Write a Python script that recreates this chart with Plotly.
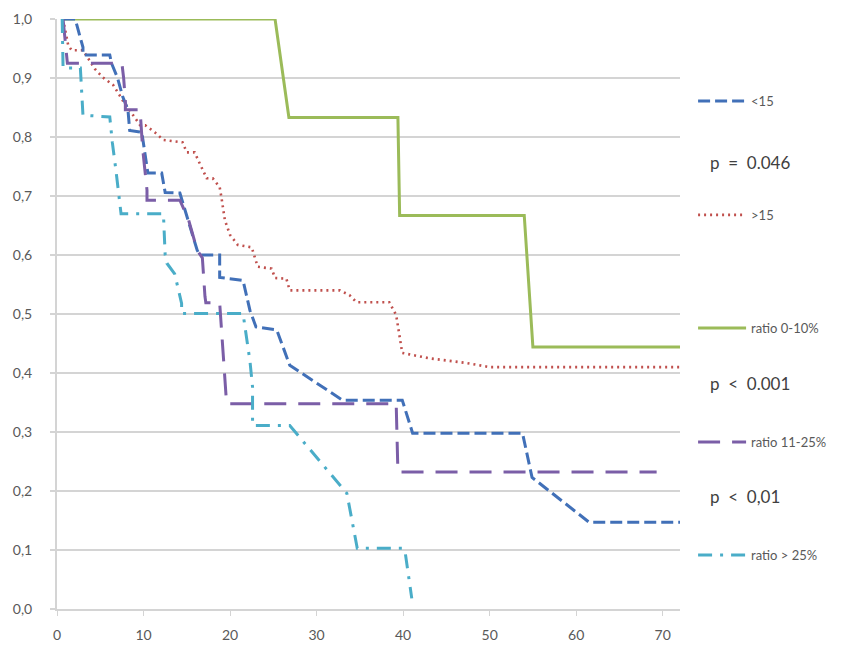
import plotly.graph_objects as go

# ---------------- data ----------------
lt15_x = [0.7, 2.1, 3.0, 3.0, 6.1, 6.3, 7.0, 7.6, 8.2, 8.4, 9.8, 10.5, 12.1, 12.5, 14.2, 16.2, 16.5, 18.8, 18.8,
          21.5, 22.3, 23.0, 25.4, 26.9, 33.0, 39.9, 41.1, 53.8, 54.9, 61.5, 72]
lt15_y = [1.0, 1.0, 0.952, 0.939, 0.939, 0.925, 0.90, 0.868, 0.846, 0.811, 0.808, 0.739, 0.739, 0.706, 0.705,
          0.608, 0.60, 0.60, 0.562, 0.557, 0.506, 0.478, 0.473, 0.413, 0.354, 0.354, 0.298, 0.298, 0.223, 0.147, 0.147]

gt15_x = [0.7, 1.3, 1.7, 3.0, 4.4, 5.3, 6.5, 7.6, 8.8, 9.6, 10.2, 11.3, 12.3, 14.5, 15.0, 15.9, 16.5, 17.3, 18.0,
          18.8, 19.0, 19.4, 20.0, 20.9, 22.5, 23.2, 24.8, 25.2, 26.5, 26.9, 32.7, 33.8, 34.6, 38.4, 39.2, 39.9,
          43.0, 47.3, 50.0, 72]
gt15_y = [1.0, 0.955, 0.947, 0.947, 0.915, 0.901, 0.888, 0.862, 0.837, 0.82, 0.82, 0.808, 0.795, 0.791, 0.774,
          0.774, 0.755, 0.73, 0.73, 0.715, 0.698, 0.659, 0.634, 0.617, 0.613, 0.58, 0.577, 0.561, 0.56, 0.54,
          0.54, 0.532, 0.52, 0.52, 0.498, 0.434, 0.425, 0.417, 0.41, 0.41]

r010_x = [0.7, 25.2, 26.8, 39.4, 39.6, 54.0, 55.0, 72]
r010_y = [1.0, 1.0, 0.833, 0.833, 0.667, 0.667, 0.444, 0.444]

r1125_x = [0.7, 1.0, 1.2, 7.5, 7.7, 7.9, 7.9, 9.6, 9.9, 10.4, 10.4, 14.2, 15.2, 16.2, 16.8, 17.1, 17.2, 18.8,
           19.6, 39.2, 39.4, 69.3]
r1125_y = [1.0, 0.96, 0.925, 0.925, 0.90, 0.862, 0.846, 0.846, 0.78, 0.71, 0.693, 0.693, 0.66, 0.608, 0.595,
           0.53, 0.519, 0.519, 0.348, 0.348, 0.232, 0.232]

r25_x = [0.6, 0.7, 2.7, 3.0, 6.1, 6.4, 6.8, 7.2, 7.4, 12.3, 12.5, 12.7, 13.6, 14.4, 14.4, 21.5, 22.3, 22.6, 22.6,
         26.9, 33.5, 34.7, 39.9, 40.2, 41.0]
r25_y = [1.0, 0.917, 0.917, 0.837, 0.834, 0.79, 0.745, 0.69, 0.67, 0.67, 0.60, 0.586, 0.568, 0.518, 0.501, 0.501,
         0.42, 0.376, 0.311, 0.311, 0.196, 0.103, 0.103, 0.10, 0.018]

x_ticks = [0, 10, 20, 30, 40, 50, 60, 70]
y_ticks = [0.0, 0.1, 0.2, 0.3, 0.4, 0.5, 0.6, 0.7, 0.8, 0.9, 1.0]
y_labels = ["0,0", "0,1", "0,2", "0,3", "0,4", "0,5", "0,6", "0,7", "0,8", "0,9", "1,0"]

series = [
    ("<15", lt15_x, lt15_y, "#4170b8", "12px,5px", 3, "legend"),
    (">15", gt15_x, gt15_y, "#c0504d", "2px,4px", 2.6, "legend2"),
    ("ratio 0-10%", r010_x, r010_y, "#9bbb59", "solid", 3, "legend3"),
    ("ratio 11-25%", r1125_x, r1125_y, "#7b5ea7", "22px,12px", 3, "legend4"),
    ("ratio > 25%", r25_x, r25_y, "#4aadc8", "14px,8px,3px,8px", 3, "legend5"),
]
legend_y = [0.861, 0.668, 0.476, 0.283, 0.0915]

pvals = [("p  =  0.046", 0.757), ("p  <  0.001", 0.383), ("p  <  0,01", 0.19)]

FONT = "Lato, 'Open Sans', sans-serif"

fig = go.Figure()
order = [2, 1, 0, 3, 4]
for i in order:
    name, xs, ys, col, dash, w, lg = series[i]
    fig.add_trace(go.Scatter(x=xs, y=ys, mode="lines", name=name,
                             line=dict(color=col, dash=dash, width=w, shape="linear"),
                             legend=lg, showlegend=True, hoverinfo="skip"))

legend_common = dict(xanchor="left", yanchor="middle", bgcolor="rgba(0,0,0,0)",
                     font=dict(family=FONT, size=13, color="#595959"), itemwidth=48,
                     tracegroupgap=0)
layout_legends = {}
for (name, xs, ys, col, dash, w, lg), ly in zip(series, legend_y):
    layout_legends[lg] = dict(x=1.021, y=ly, **legend_common)

fig.update_layout(
    width=860, height=646,
    margin=dict(l=57, r=180, t=19, b=37, autoexpand=False),
    paper_bgcolor="white", plot_bgcolor="white",
    font=dict(family=FONT, size=14, color="#595959"),
    xaxis=dict(range=[0, 72], tickvals=x_ticks, showgrid=False, zeroline=False,
               showline=True, linecolor="#d4d4d4", linewidth=2, automargin=False,
               ticks="outside", ticklen=5, tickcolor="#d4d4d4", tickwidth=1,
               tickfont=dict(family=FONT, size=14, color="#595959"), ticklabelstandoff=7),
    yaxis=dict(range=[0, 1.0], tickvals=y_ticks, ticktext=y_labels, showgrid=True,
               gridcolor="#d4d4d4", gridwidth=2, zeroline=False, automargin=False,
               showline=True, linecolor="#d4d4d4", linewidth=2,
               ticks="outside", ticklen=5, tickcolor="#d4d4d4", tickwidth=2,
               tickfont=dict(family=FONT, size=14, color="#595959"), ticklabelstandoff=15),
    **layout_legends,
)

for text, py in pvals:
    fig.add_annotation(text=text, xref="paper", yref="paper", x=1.045, y=py,
                       xanchor="left", yanchor="middle", showarrow=False,
                       font=dict(family=FONT, size=17, color="#404040"))

fig.write_html("out.html")
